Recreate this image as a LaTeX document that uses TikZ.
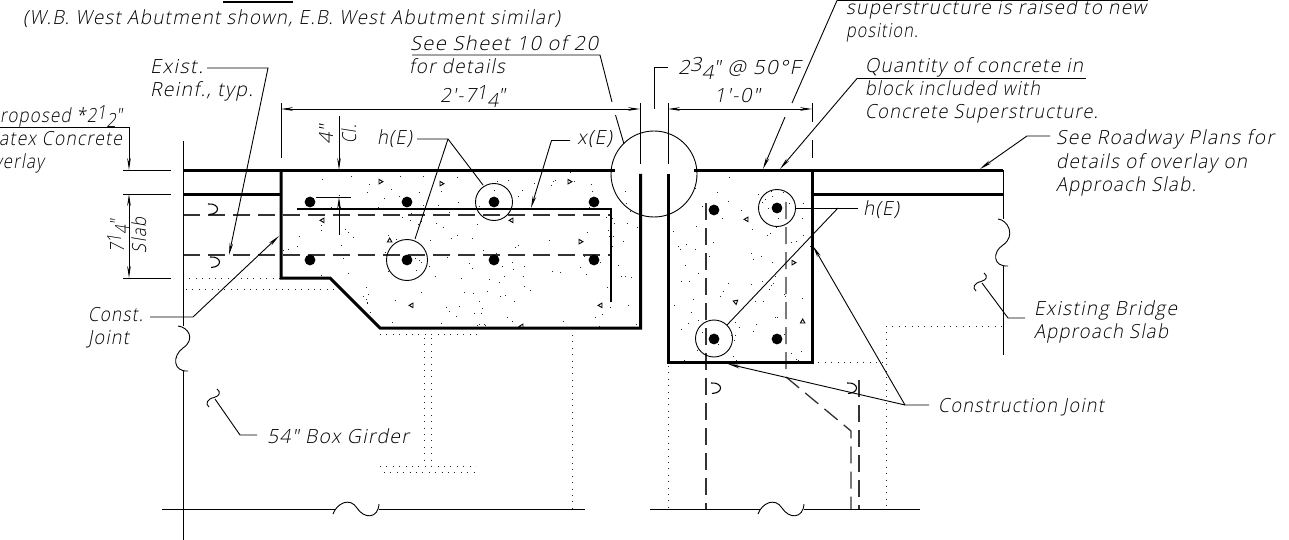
\documentclass[tikz,border=0pt]{standalone}
\usepackage{graphicx}
\usepackage{fontspec}
\usetikzlibrary{arrows.meta}
\newfontfamily\cad[FakeSlant=0.2,LetterSpace=7]{Open Sans Light}
\newsavebox\lblbox
\newdimen\lbldim
\newcommand\lbl[6][]{\pgfinterruptpicture\global\setbox\lblbox\hbox{\cad\fontsize{19.5}{21}\selectfont #6}\endpgfinterruptpicture\lbldim=\wd\lblbox\pgfmathsetmacro\lblsc{#5/\the\lbldim}\node[lab,#1] (#2) at (#3,#4) {\scalebox{\lblsc}[1]{\usebox\lblbox}};}
\newcommand\frc[2]{\raisebox{3pt}{#1}\raisebox{-5pt}{#2}}
\tikzset{
 lab/.style={anchor=base west,inner sep=0pt,outer sep=0pt},
 thin line/.style={line width=0.9pt,black},
 heavy/.style={line width=3pt,black,line cap=butt,line join=miter},
 mid/.style={line width=1.5pt,black},
 hidden/.style={line width=1.3pt,black!80,dash pattern=on 17pt off 8pt},
 dots/.style={line width=0.9pt,black!85,dash pattern=on 0.9pt off 5.5pt},
 arr/.style={-{Stealth[length=12pt,width=3.6pt]}},
 dimarr/.style={{Stealth[length=12pt,width=3.6pt]}-{Stealth[length=12pt,width=3.6pt]}}
}
\begin{document}
\begin{tikzpicture}[x=1pt,y=-1pt]
\useasboundingbox (0,0) rectangle (1289,540);
% stipple
\pgfmathsetseed{4217}
\begin{scope}
\clip (281,170) -- (281,278) -- (330,278) -- (380,328) -- (641,328) -- (641,170) -- cycle;
\foreach \i in {1,...,170}{\pgfmathsetmacro\sx{282+rnd*358}\pgfmathsetmacro\sy{172+rnd*155}\fill[black!85] (\sx,\sy) rectangle +(0.9,0.9);}
\end{scope}
\begin{scope}
\clip (668,170) rectangle (812,362);
\foreach \i in {1,...,85}{\pgfmathsetmacro\sx{669+rnd*142}\pgfmathsetmacro\sy{172+rnd*189}\fill[black!85] (\sx,\sy) rectangle +(0.9,0.9);}
\end{scope}
% aggregate triangles
\foreach \tx/\ty/\ta in {379/182/180,324/220/0,440/184/180,568/182/180,513/220/0,579/242/180,390/242/90,413/305/0,602/305/0,523/326/0,748/219/0,792/263/180,737/302/20,803/323/90}{
 \draw[line width=0.9pt] (\tx,\ty)++(\ta+90:2.6) -- ++(\ta+210:4.5) -- ++(\ta+330:4.5) -- cycle;}
% hidden lines
\draw[hidden] (183,215) -- (612,215);
\draw[hidden] (183,255) -- (612,255);
\draw[hidden] (706,203) -- (706,509);
\draw[hidden] (786,202) -- (786,377) -- (851,431) -- (851,509);
\draw[hidden] (859,380) -- (859,509);
% existing reinforcement
\draw[mid] (297,209) -- (611,209) -- (611,302);
\foreach \bx/\by in {310/202,407/202,494/202,594/202,310/260,407/260,494/260,594/260,714/210,777/208,714/339,777/339}{\fill (\bx,\by) circle (5.4);}
\draw[thin line] (494,202) circle (18.5);
\draw[thin line] (407,260) circle (20.5);
\draw[thin line] (777,208) circle (18.5);
\draw[thin line] (714,338.5) circle (18.5);
\draw[thin line] (654,174) circle (43);
% hooks
\foreach \hx/\hy in {208/204,210/257,711/383,847/383}{
 \draw[line width=1.1pt] (\hx,\hy) .. controls (\hx+12,\hy-1) and (\hx+13,\hy+10) .. (\hx+1,\hy+10.5);}
% dotted outlines
\draw[dots] (183,278) -- (281,278);
\draw[dots] (186,289.5) -- (338,289.5);
\draw[dots] (380,334) -- (477,334);
\draw[dots] (424,338) -- (424,460);
\draw[dots] (431,338) -- (431,460);
\draw[dots] (380,466) -- (476,466);
\draw[dots] (384,472) -- (476,472);
\draw[dots] (572,335) -- (572,509);
\draw[dots] (668,366) -- (668,509);
\draw[dots] (812,362) -- (886,362);
\draw[dots] (886,326) -- (1003,326);
\draw[dots] (886,326) -- (886,509);
% heavy outlines
\draw[heavy] (183,170.5) -- (615,170.5);
\draw[heavy] (694,170.5) -- (1003,170.5);
\draw[heavy] (183,194) -- (281,194);
\draw[heavy] (812,194) -- (1003,194);
\draw[heavy] (281,170.5) -- (281,278) -- (330,278) -- (380,328) -- (640.5,328) -- (640.5,174);
\draw[heavy] (668,174) -- (668,362) -- (812,362) -- (812,170.5);
\draw[heavy,line width=2.4pt] (223,2) -- (293,2);
% edge lines and breaks
\draw[thin line] (183,141) -- (183,326);
\draw[thin line] (178,326) .. controls (188,327) and (196,339) .. (183,348) .. controls (172,356) and (173,372) .. (188,371);
\draw[thin line] (183,371) -- (183,540);
\draw[thin line] (1003,170) -- (1003,219);
\draw[thin line] (998,219) .. controls (1008,220) and (1016,236) .. (1003,245) .. controls (992,252) and (993,267) .. (1008,266);
\draw[thin line] (1003,266) -- (1003,355);
\draw[thin line] (162,509) -- (335,509);
\draw[thin line] (333,514) .. controls (337,503) and (350,497) .. (357,508) .. controls (364,519) and (378,519) .. (379,504);
\draw[thin line] (379,509) -- (585,509);
\draw[thin line] (650,509) -- (760,509);
\draw[thin line] (758,514) .. controls (762,503) and (775,497) .. (782,508) .. controls (789,519) and (803,519) .. (804,504);
\draw[thin line] (804,509) -- (920,509);
% squiggles
\draw[thin line] (217,389) .. controls (221,392) and (220,396) .. (214,397.5) .. controls (207,399) and (205,404) .. (209,407);
\draw[thin line] (984,273) .. controls (988,276) and (987,280) .. (981,281.5) .. controls (974,283) and (972,288) .. (976,291);
% dimensions
\draw[thin line,dimarr] (281,109) -- (640,109);
\draw[thin line,dimarr] (668,109) -- (812,109);
\draw[thin line] (281,103) -- (281,158);
\draw[thin line] (640,103) -- (640,164);
\draw[thin line] (668,103) -- (668,164);
\draw[thin line] (812,103) -- (812,122);
\draw[thin line] (812,140) -- (812,158);
\draw[thin line] (654,109) -- (654,67) -- (668,67);
\draw[thin line] (123,170) -- (171,170);
\draw[thin line] (123,194) -- (171,194);
\draw[thin line] (123,278) -- (171,278);
\draw[thin line,dimarr] (129,194) -- (129,278);
\draw[thin line,arr] (339,116) -- (339,170);
\draw[thin line] (316,197) -- (351,197);
\draw[thin line,arr] (339,235) -- (339,197);
% leaders
\draw[thin line,arr] (207,68) -- (268,68) -- (229,255);
\draw[thin line,arr] (0,127) -- (129,127) -- (129,170);
\draw[thin line] (412,55) -- (600,55) -- (612,102);
\draw[thin line] (615.5,115) -- (624,144);
\draw[thin line] (837,0.5) -- (1148,0.5);
\draw[thin line] (837,0.5) -- (792,103);
\draw[thin line,arr] (785,117) -- (763,169);
\draw[thin line] (1086,78.5) -- (857,78.5);
\draw[thin line,arr] (857,78.5) -- (780,169);
\draw[thin line,arr] (1050,136) -- (1027,136) -- (980,169);
\draw[thin line] (417,139) -- (448,139) -- (483,185);
\draw[thin line] (448,139) -- (415,239);
\draw[thin line,arr] (570,140.5) -- (551.5,140.5) -- (531,208);
\draw[thin line] (795,208) -- (858,208);
\draw[thin line] (838,208) -- (727,325);
\draw[thin line,arr] (929,405) -- (905,405) -- (813,246);
\draw[thin line,arr] (905,405) -- (728,364);
\draw[thin line,arr] (150,317) -- (193,317) -- (279,236);
\draw[thin line] (257,435) -- (240,435) -- (215,399);
\draw[thin line] (982,283) -- (1008,318) -- (1025,318);
% labels
\lbl{tTitle}{23}{25}{537}{(W.B. West Abutment shown, E.B. West Abutment similar)}
\lbl{tSee}{410}{51}{188}{See Sheet 10 of 20}
\lbl{tDet}{409}{74}{96}{for details}
\lbl{tDimA}{440}{103}{65}{2'-7\frc14"}
\lbl{tDimB}{714}{103}{46}{1'-0"}
\lbl{tGap}{678}{75}{122}{2\frc34" @ 50°F}
\lbl{tExA}{150}{74}{53}{Exist.}
\lbl{tExB}{150}{97}{103}{Reinf., typ.}
\lbl{tPrA}{-11}{123}{133}{Proposed *2\frc12"}
\lbl{tPrB}{-11}{146}{133}{Latex Concrete}
\lbl{tPrC}{-20}{169}{64}{Overlay}
\lbl[rotate=90]{tSlabA}{124}{252}{32}{7\frc14"}
\lbl[rotate=90]{tSlabB}{146}{253}{35}{Slab}
\lbl[rotate=90]{tClA}{333}{145}{20}{4"}
\lbl[rotate=90]{tClB}{356}{144}{19}{Cl.}
\lbl{tHa}{377}{145}{35}{h(E)}
\lbl{tX}{577}{145}{35}{x(E)}
\lbl{tHb}{863}{215}{36}{h(E)}
\lbl{tSupA}{846}{15}{300}{superstructure is raised to new}
\lbl{tSupB}{846}{38}{72}{position.}
\lbl{tQuA}{865}{73}{218}{Quantity of concrete in}
\lbl{tQuB}{865}{96}{175}{block included with}
\lbl{tQuC}{865}{119}{233}{Concrete Superstructure.}
\lbl{tRoA}{1056}{145}{218}{See Roadway Plans for}
\lbl{tRoB}{1056}{168}{191}{details of overlay on}
\lbl{tRoC}{1056}{191}{140}{Approach Slab.}
\lbl{tCoA}{88}{321}{55}{Const.}
\lbl{tCoB}{88}{344}{41}{Joint}
\lbl{tBox}{267}{443}{142}{54" Box Girder}
\lbl{tBrA}{1034}{315}{143}{Existing Bridge}
\lbl{tBrB}{1034}{338}{134}{Approach Slab}
\lbl{tCJ}{938}{412}{166}{Construction Joint}
\end{tikzpicture}
\end{document}
